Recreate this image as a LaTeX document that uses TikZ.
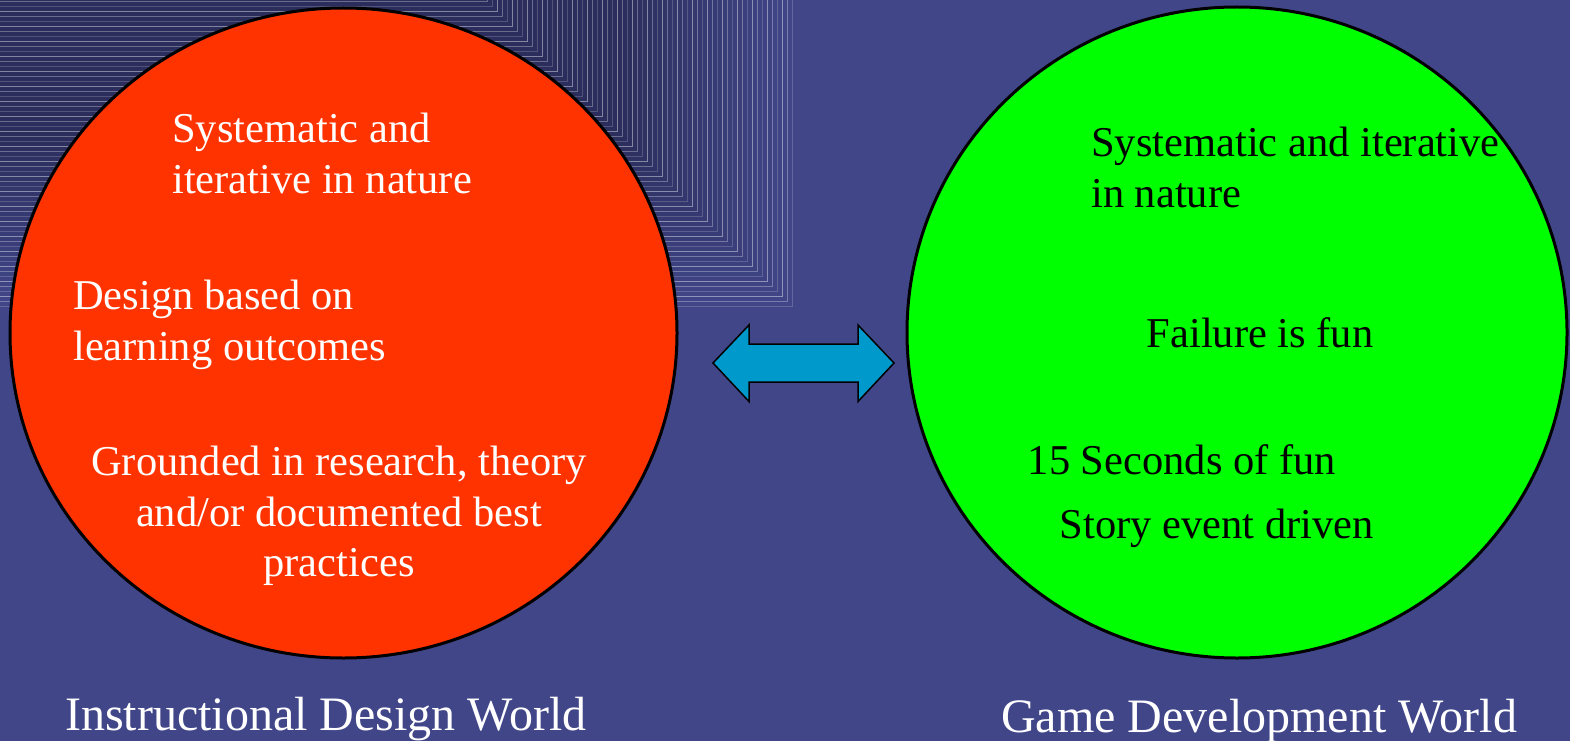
\documentclass[tikz,border=0pt]{standalone}
\usepackage{fontspec}
\setmainfont{Liberation Serif}
\usetikzlibrary{shapes.geometric}
\definecolor{bgblue}{RGB}{65,70,137}
\definecolor{bgdark}{RGB}{43,46,92}
\definecolor{redfill}{RGB}{255,51,0}
\definecolor{greenfill}{RGB}{0,255,0}
\definecolor{arrowfill}{RGB}{0,153,204}
\begin{document}
\begin{tikzpicture}[x=1pt,y=-1pt,
  circ/.style={draw=black, line width=3pt, ellipse, inner sep=0pt},
  wtext/.style={text=white, font=\fontsize{42.5}{50.5}\selectfont, inner sep=0pt},
  btext/.style={text=black, font=\fontsize{42.5}{50.5}\selectfont, inner sep=0pt},
  label/.style={text=white, font=\fontsize{48}{56}\selectfont, inner sep=0pt, anchor=base west},
  arrowbox/.style={draw=black, line width=1.5pt, fill=arrowfill, line join=miter}]
\useasboundingbox (0,0) rectangle (1570,741);
\fill[bgblue] (0,0) rectangle (1570,741);
% nested corner pattern
\foreach \i in {0,...,61} {
  \pgfmathsetmacro\t{min(100,3*\i)}
  \fill[bgdark!\t!bgblue] (0,0) rectangle ({792-5*\i},{306-5*\i});
}
\foreach \i in {0,...,61} {
  \pgfmathsetmacro\op{0.18+0.12*mod(\i,3)}
  \draw[white, opacity=\op, line width=0.8pt] (0,{306-5*\i}) -| ({792-5*\i},0);
}
% circles
\node[circ, fill=redfill, minimum width=667pt, minimum height=650pt] (L) at (343.5,333) {};
\node[circ, fill=greenfill, minimum width=660pt, minimum height=651pt] (R) at (1237,332.5) {};
% double arrow
\coordinate (al) at (713,363);
\coordinate (ar) at (894,363);
\draw[arrowbox] (al) -- ++(36,-38) -- ++(0,19) -- ++(109,0) -- ++(0,-19) -- (ar)
  -- ++(-36,38.5) -- ++(0,-19.5) -- ++(-109,0) -- ++(0,19.5) -- cycle;
% left texts (anchor at baseline of last line)
\node[wtext, align=left, anchor=base west] (l1) at (172,193) {Systematic and\\iterative in nature};
\node[wtext, align=left, anchor=base west] (l2) at (73,360) {Design based on\\learning outcomes};
\node[wtext, align=center, anchor=base] (l3) at (339,576.5) {Grounded in research, theory\\and/or documented best\\practices};
% right texts
\node[btext, align=left, anchor=base west] (r1) at (1091,207) {Systematic and iterative\\in nature};
\node[btext, anchor=base west] (r2) at (1146.5,347) {Failure is fun};
\node[btext, anchor=base west] (r3) at (1027.6,474) {15 Seconds of fun};
\node[btext, anchor=base west] (r4) at (1059.7,538) {Story event driven};
% labels
\node[label] (lab1) at (65,730) {Instructional Design World};
\node[label] (lab2) at (1001,732) {Game Development World};
\end{tikzpicture}
\end{document}
